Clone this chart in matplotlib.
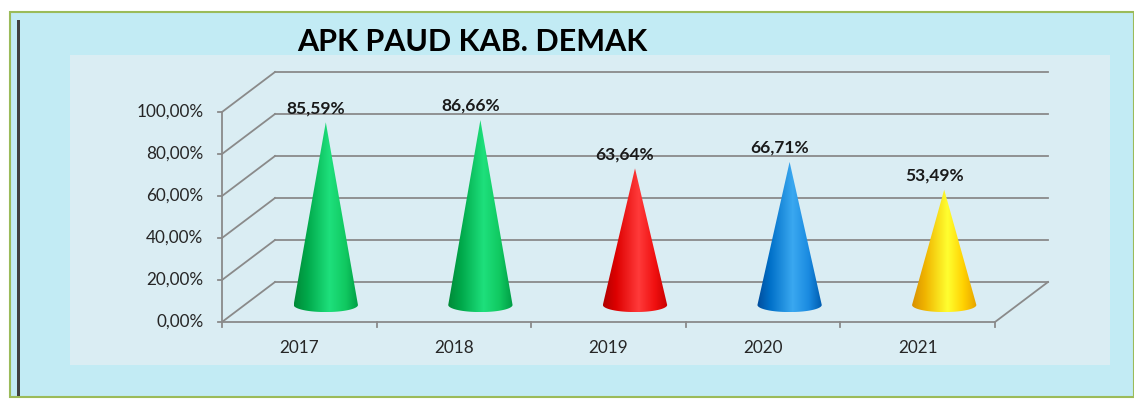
import matplotlib.pyplot as plt
import matplotlib.patches as mpatches
from matplotlib.colors import LinearSegmentedColormap
import numpy as np

plt.rcParams['font.family'] = ['Lato', 'DejaVu Sans']

# data
years = ['2017', '2018', '2019', '2020', '2021']
apk = [85.59, 86.66, 63.64, 66.71, 53.49]
value_labels = ['85,59%', '86,66%', '63,64%', '66,71%', '53,49%']
y_ticks = [0, 20, 40, 60, 80, 100]
y_tick_labels = ['0,00%', '20,00%', '40,00%', '60,00%', '80,00%', '100,00%']
title = 'APK PAUD KAB. DEMAK'

# cone gradients (left edge -> highlight -> right edge)
cone_colors = [
    ['#008a38', '#00a84a', '#1ee07c', '#10c860', '#009c44'],
    ['#008a38', '#00a84a', '#1ee07c', '#10c860', '#009c44'],
    ['#b00000', '#dd0000', '#ff3a3a', '#f01010', '#c80000'],
    ['#004c9c', '#0070c8', '#3aa8f0', '#1a8ae0', '#005cb0'],
    ['#d89000', '#f0b400', '#ffff30', '#ffd000', '#e6a200'],
]

W, H = 1134, 401
fig = plt.figure(figsize=(W / 100, H / 100), dpi=100)
fig.patch.set_facecolor('white')


def fx(px):
    return px / W


def fy(py):
    return 1 - py / H


# background frame
fig.patches.append(mpatches.Rectangle((fx(10), fy(397)), fx(1124), (397 - 12) / H,
                                      transform=fig.transFigure, facecolor='#c2ebf4',
                                      edgecolor='#9bbb59', lw=1.5, zorder=-3))
fig.patches.append(mpatches.Rectangle((fx(17), fy(396)), fx(3), (396 - 20) / H,
                                      transform=fig.transFigure, facecolor='#404040',
                                      edgecolor='none', zorder=-2))
fig.patches.append(mpatches.Rectangle((fx(70), fy(365)), fx(1040), (365 - 55) / H,
                                      transform=fig.transFigure, facecolor='#daedf3',
                                      edgecolor='none', zorder=-2))

# front plane: x 222..995 px, y 322 (0%) .. 112 (100%)
ax = fig.add_axes([fx(222), fy(322), (995 - 222) / W, 210 / H])
ax.set_xlim(0, 5)
ax.set_ylim(0, 100)
ax.axis('off')
ax.patch.set_alpha(0)

dx = 53 / (773 / 5)   # depth offset in category units
dy = 40 / 2.1         # depth offset in percent units
grid_c = '#8a8a8a'
lw = 1.3

for v in y_ticks:
    ax.plot([0, dx], [v, v + dy], color=grid_c, lw=lw, clip_on=False, zorder=1)
    ax.plot([dx, 5 + dx], [v + dy, v + dy], color=grid_c, lw=lw, clip_on=False, zorder=1)
    ax.plot([-0.025, 0], [v, v], color=grid_c, lw=lw, clip_on=False, zorder=1)
ax.plot([0, 5], [0, 0], color=grid_c, lw=lw, clip_on=False, zorder=1)
ax.plot([5, 5 + dx], [0, dy], color=grid_c, lw=lw, clip_on=False, zorder=1)
ax.plot([0, 0], [0, 100], color=grid_c, lw=lw, clip_on=False, zorder=1)
for i in range(6):
    ax.plot([i, i], [0, -2.5], color=grid_c, lw=lw, clip_on=False, zorder=1)

for v, lab in zip(y_ticks, y_tick_labels):
    ax.text(-0.12, v, lab, ha='right', va='center', fontsize=12.3, color='#262626')
for i, yr in enumerate(years):
    ax.text(i + 0.5, -12.4, yr, ha='center', va='center', fontsize=12.3, color='#262626')

# cones
r = 0.208
e = 3.4
t = np.linspace(np.pi, 2 * np.pi, 40)
grad = np.linspace(0, 1, 256)[None, :]
for i, (v, cols, lab) in enumerate(zip(apk, cone_colors, value_labels)):
    cx = i + 0.5 + dx / 2
    by = dy / 2 - 1.4
    top = v + dy / 2
    arc = np.column_stack([cx + r * np.cos(t), by + e * np.sin(t)])
    verts = [(cx, top), (cx - r, by)] + [tuple(p) for p in arc] + [(cx + r, by), (cx, top)]
    poly = mpatches.Polygon(verts, closed=True, facecolor='none', edgecolor='none',
                            transform=ax.transData)
    ax.add_patch(poly)
    cmap = LinearSegmentedColormap.from_list('c%d' % i, list(zip([0, 0.2, 0.55, 0.8, 1.0], cols)))
    im = ax.imshow(grad, cmap=cmap, extent=[cx - r, cx + r, by - e, top], aspect='auto',
                   zorder=3, interpolation='bilinear')
    im.set_clip_path(poly)
    ax.text(cx - 0.065, top + 6.7, lab, ha='center', va='center', fontsize=12.5,
            fontweight='bold', color='#1a1a1a', zorder=4)

ax.set_xlim(0, 5)
ax.set_ylim(0, 100)

fig.text(fx(472), fy(42), title, ha='center', va='center', fontsize=22,
         fontweight='bold', color='black')

fig.savefig('out.png', dpi=100)
